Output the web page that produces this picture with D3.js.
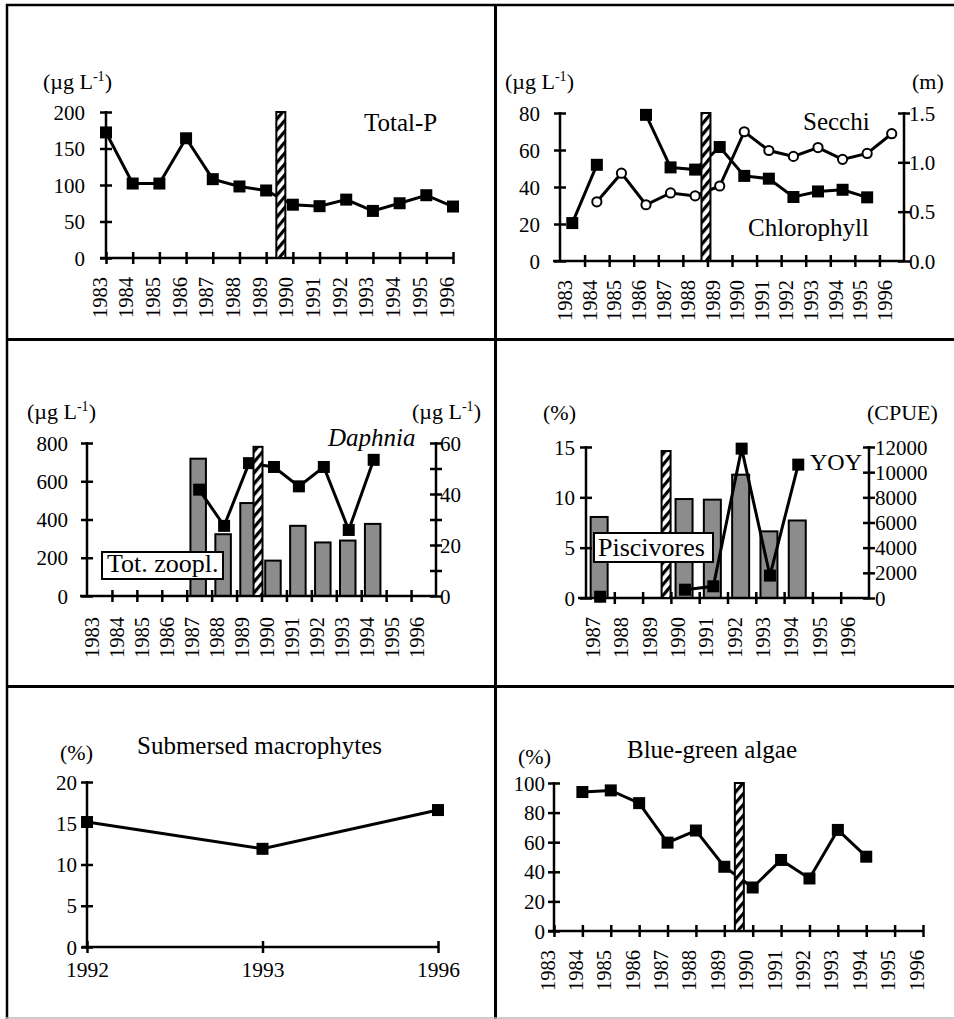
<!DOCTYPE html>
<html><head><meta charset="utf-8">
<script src="https://cdn.jsdelivr.net/npm/d3@7"></script>
<style>
html,body{margin:0;padding:0;background:#fff;}
svg{display:block;}
</style></head><body>
<svg id="chart" width="954" height="1019"></svg>
<script>
// ---------------- DATA ----------------
const years = [1983,1984,1985,1986,1987,1988,1989,1990,1991,1992,1993,1994,1995,1996];
// Panel 1: Total-P (µg/L)
const totalP = [172,102,102,164,108,98,92.5,73,71,80,64.5,75,86,70.5];
const totalPTicks = [0,50,100,150,200];
// Panel 2: Chlorophyll (µg/L, left) and Secchi depth (m, right)
const chlorophyll = [20.5,52,null,79,50.6,49.4,61.6,46,44.5,34.6,37.6,38.5,34.4,null];
const secchi = [null,0.6,0.89,0.57,0.69,0.66,0.76,1.31,1.12,1.06,1.15,1.03,1.09,1.29];
const chlTicks = [0,20,40,60,80];
const secchiTicks = [0,0.5,1.0,1.5];
// Panel 3: total zooplankton (bars, left) and Daphnia (line, right)
const zooplankton = [null,null,null,null,718,323,486,185,367,280,290,377,null,null];
const daphnia = [null,null,null,null,41.7,27.5,52.1,50.6,43,50.6,25.9,53.4,null,null];
const zoopTicks = [0,200,400,600,800];
const daphTicks = [0,10,20,30,40,50,60];
const daphLabelled = [0,20,40,60];
// Panel 4: piscivores (%, bars) and YOY fish (CPUE, line)
const fishYears = [1987,1988,1989,1990,1991,1992,1993,1994,1995,1996];
const piscivores = [8.05,null,null,9.83,9.77,12.25,6.62,7.7,null,null];
const yoy = [100,null,null,660,930,11870,1780,10600,null,null];
const pisTicks = [0,5,10,15];
const yoyTicks = [0,2000,4000,6000,8000,10000,12000];
// Panel 5: submersed macrophytes (%)
const macroYears = ["1992","1993","1996"];
const macrophytes = [15.15,11.9,16.6];
const macroTicks = [0,5,10,15,20];
// Panel 6: blue-green algae (%)
const blueGreen = [null,93.9,95,86.4,59.7,67.9,43.4,29.4,48,35.5,68.3,50.2,null,null];
const bgTicks = [0,20,40,60,80,100];
// Timing of the intervention (hatched bar), in year units of each panel's axis
const hatchTotalP = 1989.55, hatchChl = 1988.94, hatchZoop = 1989.86, hatchFish = 1989.83, hatchBG = 1989.53;
const hatchTopTotalP = 200, hatchTopChl = 80, hatchTopZoop = 780, hatchTopFish = 14.6, hatchTopBG = 100;

// ---------------- DRAWING ----------------
const FONT = '"Liberation Serif","Times New Roman",Times,serif';
const svg = d3.select("#chart");
const defs = svg.append("defs");
const pat = defs.append("pattern").attr("id","hatch").attr("patternUnits","userSpaceOnUse")
  .attr("width",7).attr("height",7).attr("patternTransform","rotate(40)");
pat.append("rect").attr("width",7).attr("height",7).attr("fill","#fff");
pat.append("rect").attr("width",3.2).attr("height",7).attr("fill","#000");

// frame
const frame = svg.append("g").attr("stroke","#000");
frame.append("line").attr("x1",6).attr("x2",954).attr("y1",5).attr("y2",5).attr("stroke-width",2.5);
frame.append("line").attr("x1",7).attr("x2",7).attr("y1",4).attr("y2",1019).attr("stroke-width",2.5);
frame.append("line").attr("x1",495.5).attr("x2",495.5).attr("y1",4).attr("y2",1019).attr("stroke-width",3);
frame.append("line").attr("x1",6).attr("x2",954).attr("y1",339.5).attr("y2",339.5).attr("stroke-width",3);
frame.append("line").attr("x1",6).attr("x2",954).attr("y1",686.5).attr("y2",686.5).attr("stroke-width",3);
frame.append("line").attr("x1",6).attr("x2",954).attr("y1",1018).attr("y2",1018).attr("stroke","#bbb").attr("stroke-width",1.5);

function yAxis(y, x0, ticks, fmt, gap, side){
  const ax = side === "right" ? d3.axisRight(y) : d3.axisLeft(y);
  const g = svg.append("g").attr("transform",`translate(${x0},0)`)
    .call(ax.tickValues(ticks).tickFormat(fmt).tickSize(0));
  g.attr("font-size",21);
  g.select(".domain").remove();
  g.selectAll(".tick line").attr("x1",-6).attr("x2",6).attr("y1",0).attr("y2",0)
    .attr("stroke","#000").attr("stroke-width",2.5);
  g.selectAll(".tick text").attr("x", side === "right" ? gap : -gap).attr("dy","0.34em")
    .attr("text-anchor", side === "right" ? "start" : "end").attr("fill","#000");
  const r = y.range();
  g.append("line").attr("y1",r[0]+1).attr("y2",r[1]-1).attr("stroke","#000").attr("stroke-width",2.5);
}

function xAxis(tickScale, tickVals, labelScale, labelVals, fmt, y0, xa, xb, gap){
  const g = svg.append("g").attr("transform",`translate(0,${y0})`);
  const t = g.append("g").call(d3.axisBottom(tickScale).tickValues(tickVals).tickFormat("").tickSize(0));
  t.select(".domain").remove();
  t.selectAll(".tick line").attr("y1",-6).attr("y2",6).attr("stroke","#000").attr("stroke-width",2.5);
  const l = g.append("g").call(d3.axisBottom(labelScale).tickValues(labelVals).tickFormat(fmt).tickSize(0));
  l.select(".domain").remove();
  l.attr("font-size",20.5);
  l.selectAll(".tick text").attr("transform","rotate(-90)").attr("text-anchor","end")
    .attr("x",-gap).attr("y",0).attr("dy",null).attr("fill","#000");
  g.append("line").attr("x1",xa).attr("x2",xb).attr("stroke","#000").attr("stroke-width",2.5);
}

function lineSeries(xs, ys, x, y){
  const pts = xs.map((d,i)=>({x:d, v:ys[i]}));
  svg.append("path").datum(pts)
    .attr("d", d3.line().defined(d=>d.v!=null).x(d=>x(d.x)).y(d=>y(d.v)))
    .attr("fill","none").attr("stroke","#000").attr("stroke-width",3).attr("stroke-linejoin","miter");
  return pts.filter(d=>d.v!=null);
}
function squares(pts, x, y, s=12){
  svg.append("g").selectAll("rect").data(pts).join("rect")
    .attr("x",d=>x(d.x)-s/2).attr("y",d=>y(d.v)-s/2).attr("width",s).attr("height",s).attr("fill","#000");
}
function circles(pts, x, y){
  svg.append("g").selectAll("circle").data(pts).join("circle")
    .attr("cx",d=>x(d.x)).attr("cy",d=>y(d.v)).attr("r",4.6)
    .attr("fill","#fff").attr("stroke","#000").attr("stroke-width",2);
}
function hatchBar(xc, yTop, yBottom){
  svg.append("rect").attr("x",xc-4.5).attr("y",yTop).attr("width",9).attr("height",yBottom-yTop)
    .attr("fill","url(#hatch)").attr("stroke","#000").attr("stroke-width",2);
}
function bars(xs, vs, xb, y, bw, fill){
  const d = xs.map((k,i)=>({k, v:vs[i]})).filter(d=>d.v!=null);
  svg.append("g").selectAll("rect").data(d).join("rect")
    .attr("x",e=>xb(e.k)+xb.bandwidth()/2-bw/2-1).attr("width",bw)
    .attr("y",e=>y(e.v)).attr("height",e=>y(0)-y(e.v))
    .attr("fill",fill).attr("stroke","#000").attr("stroke-width",2);
}
function label(txt, x, y, size, opts={}){
  const t = svg.append("text").attr("x",x).attr("y",y).attr("font-size",size);
  if (opts.italic) t.attr("font-style","italic");
  if (opts.anchor) t.attr("text-anchor",opts.anchor);
  t.text(txt);
  return t;
}
function unitLabel(x, y){
  const t = svg.append("text").attr("x",x).attr("y",y).attr("font-size",22);
  t.append("tspan").text("(\u00b5g L");
  t.append("tspan").attr("font-size",14).attr("dy",-8).text("-1");
  t.append("tspan").attr("dy",8).text(")");
}
const fmtYear = d3.format("d");

// ===== Panel 1: Total-P =====
{
  const x = d3.scaleLinear().domain([1983,1996]).range([106,453]);
  const y = d3.scaleLinear().domain([0,200]).range([258,112]);
  yAxis(y, 106, totalPTicks, d3.format("d"), 21, "left");
  xAxis(x, years, x, years, fmtYear, 258, 100, 453, 19);
  const pts = lineSeries(years, totalP, x, y);
  squares(pts, x, y);
  hatchBar(x(hatchTotalP), y(hatchTopTotalP), y(0));
  unitLabel(43, 89);
  label("Total-P", 364, 131, 25);
}

// ===== Panel 2: Secchi & Chlorophyll =====
{
  const xl = d3.scaleLinear().domain([1983,1997]).range([560,904]);
  const xb = d3.scaleBand().domain(years).range([560,904]);
  const xc = d => xl(d+0.5);
  const y = d3.scaleLinear().domain([0,80]).range([261,113]);
  const y2 = d3.scaleLinear().domain([0,1.5]).range([261,113]);
  yAxis(y, 560, chlTicks, d3.format("d"), 20, "left");
  yAxis(y2, 904, secchiTicks, d3.format(".1f"), 5, "right");
  xAxis(xl, years.slice(1), xb, years, fmtYear, 261, 553, 904, 19);
  const sp = lineSeries(years, secchi, xc, y2);
  const cp = lineSeries(years, chlorophyll, xc, y);
  circles(sp, xc, y2);
  squares(cp, xc, y);
  hatchBar(xl(hatchChl), y(hatchTopChl), y(0));
  unitLabel(505, 89);
  label("(m)", 912, 89, 22);
  label("Secchi", 803, 130, 25);
  label("Chlorophyll", 748, 236, 25);
}

// ===== Panel 3: Zooplankton & Daphnia =====
{
  const xl = d3.scaleLinear().domain([1983,1997]).range([87,436]);
  const xb = d3.scaleBand().domain(years).range([87,436]);
  const xc = d => xl(d+0.5);
  const y = d3.scaleLinear().domain([0,800]).range([596,443]);
  const y2 = d3.scaleLinear().domain([0,60]).range([596,443]);
  bars(years, zooplankton, xb, y, 15.5, "#8c8c8c");
  yAxis(y, 87, zoopTicks, d3.format("d"), 19, "left");
  yAxis(y2, 436, daphTicks, d => daphLabelled.includes(d) ? d : "", 4, "right");
  xAxis(xl, years.slice(1), xb, years, fmtYear, 596, 80, 436, 21);
  const dp = lineSeries(years, daphnia, xc, y2);
  squares(dp, xc, y2);
  hatchBar(xl(hatchZoop), y(hatchTopZoop), y(0));
  unitLabel(27, 419);
  unitLabel(412, 419);
  label("Daphnia", 328, 446, 25, {italic:true});
  svg.append("rect").attr("x",102).attr("y",552).attr("width",121).attr("height",27)
    .attr("fill","#fff").attr("stroke","#000").attr("stroke-width",2);
  label("Tot. zoopl.", 107, 572, 26);
}

// ===== Panel 4: Piscivores & YOY =====
{
  const xl = d3.scaleLinear().domain([1987,1997]).range([586,869]);
  const xb = d3.scaleBand().domain(fishYears).range([586,869]);
  const xc = d => xl(d+0.5);
  const y = d3.scaleLinear().domain([0,15]).range([598,447]);
  const y2 = d3.scaleLinear().domain([0,12000]).range([598,447]);
  bars(fishYears, piscivores, xb, y, 17, "#8c8c8c");
  yAxis(y, 586, pisTicks, d3.format("d"), 11, "left");
  yAxis(y2, 869, yoyTicks, d3.format("d"), 6, "right");
  xAxis(xl, fishYears.slice(1), xb, fishYears, fmtYear, 598, 578, 869, 19);
  const yp = lineSeries(fishYears, yoy, xc, y2);
  squares(yp, xc, y2);
  hatchBar(xl(hatchFish), y(hatchTopFish), y(0));
  label("(%)", 543, 420, 22);
  label("(CPUE)", 867, 420, 22);
  label("YOY", 810, 470, 24);
  svg.append("rect").attr("x",594).attr("y",533).attr("width",119).attr("height",29)
    .attr("fill","#fff").attr("stroke","#000").attr("stroke-width",2);
  label("Piscivores", 598, 556, 26);
}

// ===== Panel 5: Submersed macrophytes =====
{
  const x = d3.scalePoint().domain(macroYears).range([87,438]);
  const y = d3.scaleLinear().domain([0,20]).range([947,782]);
  yAxis(y, 87, macroTicks, d3.format("d"), 10, "left");
  const g = svg.append("g").attr("transform","translate(0,947)");
  const ax = g.append("g").call(d3.axisBottom(x).tickSize(0));
  ax.select(".domain").remove();
  ax.attr("font-size",21.5);
  ax.selectAll(".tick line").attr("y1",-6).attr("y2",6).attr("stroke","#000").attr("stroke-width",2.5);
  ax.selectAll(".tick text").attr("y",30).attr("dy",null).attr("fill","#000");
  g.append("line").attr("x1",82).attr("x2",438).attr("stroke","#000").attr("stroke-width",2.5);
  const pts = lineSeries(macroYears, macrophytes, x, y);
  squares(pts, x, y);
  label("(%)", 60, 760, 22);
  label("Submersed macrophytes", 137, 754, 25);
}

// ===== Panel 6: Blue-green algae =====
{
  const x = d3.scaleLinear().domain([1983,1996]).range([554,923]);
  const y = d3.scaleLinear().domain([0,100]).range([931,783]);
  yAxis(y, 554, bgTicks, d3.format("d"), 9, "left");
  xAxis(x, years, x, years, fmtYear, 931, 548, 923, 19);
  const pts = lineSeries(years, blueGreen, x, y);
  squares(pts, x, y);
  hatchBar(x(hatchBG), y(hatchTopBG), y(0));
  label("(%)", 518, 764, 22);
  label("Blue-green algae", 627, 758, 25);
}

// apply the serif font to every text element
svg.selectAll("g").filter(function(){ return this.hasAttribute("font-family"); }).attr("font-family", null);
svg.selectAll("text").style("font-family", FONT).style("fill", "#000");
</script>
</body></html>
